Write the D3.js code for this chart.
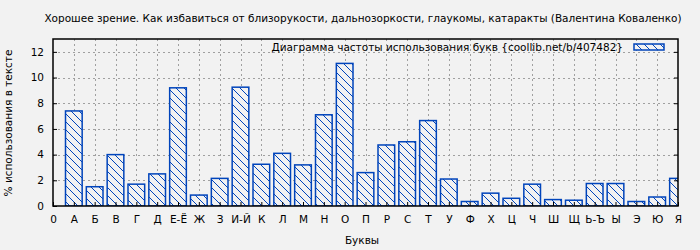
<!DOCTYPE html>
<html>
<head>
<meta charset="utf-8">
<script src="https://cdn.jsdelivr.net/npm/d3@7"></script>
<style>
  body { margin: 0; background: #f2f2f2; }
  svg { display: block; }
  text { font-family: "DejaVu Sans", sans-serif; fill: #000; }
</style>
</head>
<body>
<div id="chart"></div>
<script>
const title = 'Хорошее зрение. Как избавиться от близорукости, дальнозоркости, глаукомы, катаракты (Валентина Коваленко)';
const legend_label = 'Диаграмма частоты использования букв {coollib.net/b/407482}';
const letters = ['А', 'Б', 'В', 'Г', 'Д', 'Е-Ё', 'Ж', 'З', 'И-Й', 'К', 'Л', 'М', 'Н', 'О', 'П',
    'Р', 'С', 'Т', 'У', 'Ф', 'Х', 'Ц', 'Ч', 'Ш', 'Щ', 'Ь-Ъ', 'Ы', 'Э', 'Ю', 'Я'];
const percents = [7.4, 1.5, 4.0, 1.7, 2.5, 9.2, 0.85, 2.15, 9.25, 3.25, 4.1, 3.2, 7.1, 11.1, 2.6,
    4.75, 5.0, 6.65, 2.1, 0.35, 1.0, 0.6, 1.7, 0.5, 0.45, 1.75, 1.75, 0.35, 0.7, 2.15];
const x_tick_labels = ['0'].concat(letters);
const y_ticks = [0, 2, 4, 6, 8, 10, 12];

const width = 700, height = 250;
const margin = { left: 53, right: 22, top: 39, bottom: 44 };
const blue = '#0044bb';
const fs = 10.5;

const svg = d3.select('#chart').append('svg')
    .attr('width', width)
    .attr('height', height);

svg.append('rect').attr('width', width).attr('height', height).attr('fill', '#f2f2f2');

const defs = svg.append('defs');
const pattern = defs.append('pattern')
    .attr('id', 'hatch')
    .attr('patternUnits', 'userSpaceOnUse')
    .attr('width', 8)
    .attr('height', 8);
pattern.append('rect').attr('width', 8).attr('height', 8).attr('fill', '#f2f2f2');
pattern.append('path')
    .attr('d', 'M-1,-1 L9,9 M-1,7 L1,9 M7,-1 L9,1')
    .attr('stroke', blue)
    .attr('stroke-width', 1);

defs.append('clipPath').attr('id', 'plot-clip')
    .append('rect')
    .attr('x', margin.left)
    .attr('y', margin.top)
    .attr('width', width - margin.left - margin.right)
    .attr('height', height - margin.top - margin.bottom);

const x = d3.scaleLinear()
    .domain([0, letters.length])
    .range([margin.left, width - margin.right]);
const y = d3.scaleLinear()
    .domain([0, 13])
    .range([height - margin.bottom, margin.top]);

const x_positions = d3.range(x_tick_labels.length);

// grid
const grid = svg.append('g')
    .attr('stroke', '#a0a0a0')
    .attr('stroke-dasharray', '2,3')
    .attr('stroke-width', 1);
grid.selectAll('.vgrid')
    .data(x_positions.slice(1, -1))
    .join('line')
    .attr('x1', d => Math.round(x(d)) + 0.5)
    .attr('x2', d => Math.round(x(d)) + 0.5)
    .attr('y1', y(0))
    .attr('y2', y(13));
grid.selectAll('.hgrid')
    .data(y_ticks.slice(1))
    .join('line')
    .attr('x1', x(0))
    .attr('x2', x(letters.length))
    .attr('y1', d => Math.round(y(d)) + 0.5)
    .attr('y2', d => Math.round(y(d)) + 0.5);

// bars
const bar_w = (x(1) - x(0)) * 0.8;
svg.append('g')
    .attr('clip-path', 'url(#plot-clip)')
    .selectAll('rect')
    .data(percents)
    .join('rect')
    .attr('x', (d, i) => x(i + 1) - bar_w / 2)
    .attr('y', d => y(d))
    .attr('width', bar_w)
    .attr('height', d => y(0) - y(d))
    .attr('fill', 'url(#hatch)')
    .attr('stroke', blue)
    .attr('stroke-width', 1.5);

// border
svg.append('rect')
    .attr('x', x(0))
    .attr('y', y(13))
    .attr('width', x(letters.length) - x(0))
    .attr('height', y(0) - y(13))
    .attr('fill', 'none')
    .attr('stroke', '#000')
    .attr('stroke-width', 1.5);

// y axis
const y_axis = svg.append('g')
    .attr('transform', `translate(${x(0)},0)`)
    .call(d3.axisLeft(y).tickValues(y_ticks).tickSize(-4).tickPadding(9));
y_axis.select('.domain').remove();
y_axis.selectAll('text').attr('font-size', fs).attr('font-family', '"DejaVu Sans", sans-serif');

// mirror ticks on the right
svg.append('g')
    .attr('transform', `translate(${x(letters.length)},0)`)
    .call(d3.axisRight(y).tickValues(y_ticks.slice(1)).tickSize(-4).tickFormat(''))
    .select('.domain').remove();

// x axis
const x_axis = svg.append('g')
    .attr('transform', `translate(0,${y(0)})`)
    .call(d3.axisBottom(x).tickValues(x_positions).tickSize(-4).tickPadding(10)
        .tickFormat(d => x_tick_labels[d]));
x_axis.select('.domain').remove();
x_axis.selectAll('text').attr('font-size', fs).attr('font-family', '"DejaVu Sans", sans-serif');

// titles
svg.append('text')
    .attr('x', 363)
    .attr('y', 22)
    .attr('text-anchor', 'middle')
    .attr('font-size', fs)
    .text(title);

svg.append('text')
    .attr('x', 362)
    .attr('y', 244)
    .attr('text-anchor', 'middle')
    .attr('font-size', fs)
    .text('Буквы');

svg.append('text')
    .attr('transform', 'translate(12,123) rotate(-90)')
    .attr('text-anchor', 'middle')
    .attr('font-size', fs)
    .text('% использования в тексте');

// legend
svg.append('text')
    .attr('x', 623)
    .attr('y', 51)
    .attr('text-anchor', 'end')
    .attr('font-size', fs)
    .text(legend_label);
svg.append('rect')
    .attr('x', 634)
    .attr('y', 44)
    .attr('width', 30)
    .attr('height', 6)
    .attr('fill', 'url(#hatch)')
    .attr('stroke', blue)
    .attr('stroke-width', 1.5);
</script>
</body>
</html>
